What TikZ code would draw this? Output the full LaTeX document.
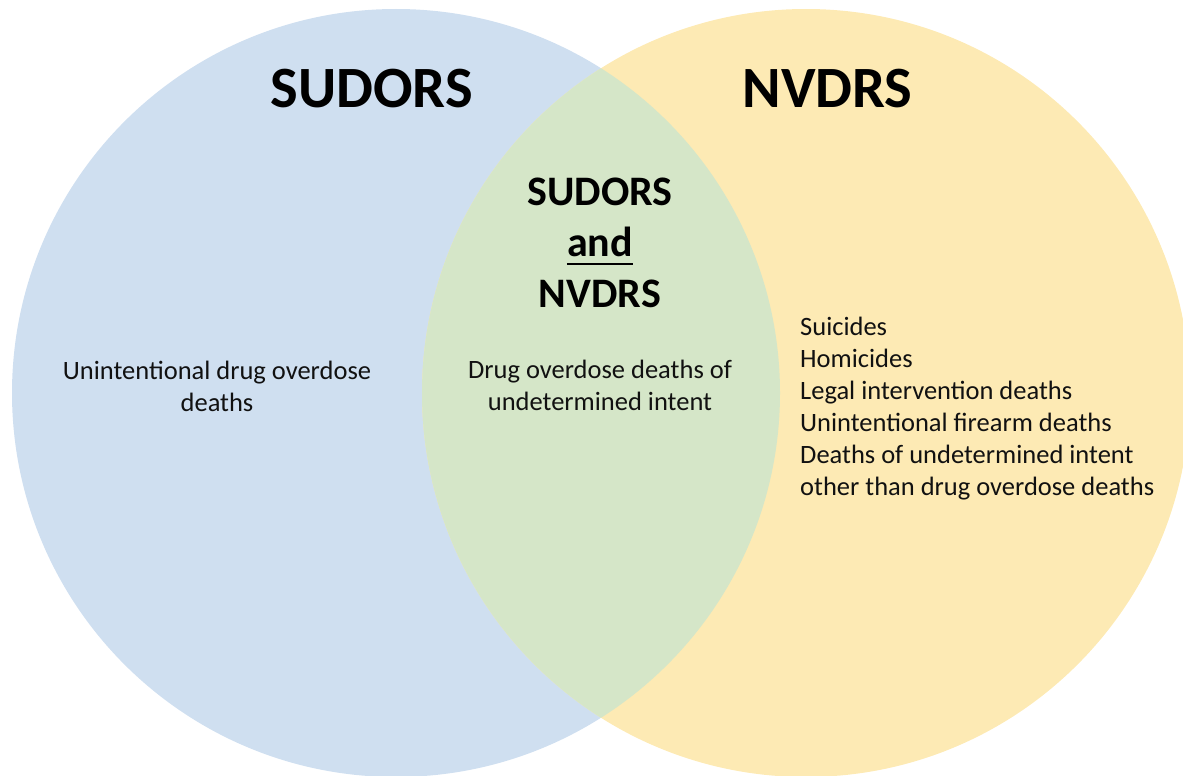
\documentclass[tikz,border=0pt]{standalone}
\usepackage{fontspec}
\setmainfont{Carlito}
\definecolor{cblue}{HTML}{CFDFF0}
\definecolor{cyellow}{HTML}{FDEAB4}
\definecolor{cgreen}{HTML}{D5E6C8}
\definecolor{ctext}{HTML}{111111}
\begin{document}
\begin{tikzpicture}[x=1pt,y=-1pt,
  title/.style={anchor=base,inner sep=0pt,font=\fontsize{58.5}{70}\selectfont\bfseries,text=black},
  midtitle/.style={anchor=base,inner sep=0pt,font=\fontsize{42}{51}\selectfont\bfseries,text=black},
  body/.style={anchor=base,inner sep=0pt,font=\fontsize{26.5}{32}\selectfont,text=ctext},
  listitem/.style={body,anchor=base west}]
\useasboundingbox (0,0) rectangle (1183,776);
\begin{scope}
\clip (0,0) rectangle (1183,776);
\fill[cblue] (396,393) circle[radius=384];
\fill[cyellow] (806,393) circle[radius=384];
\begin{scope}
\clip (396,393) circle[radius=384];
\fill[cgreen] (806,393) circle[radius=384];
\end{scope}
\end{scope}
% titles
\node[title] (t1) at (371.5,107) {SUDORS};
\node[title] (t2) at (827.5,107) {NVDRS};
% intersection titles
\node[midtitle] (m1) at (600,205) {SUDORS};
\node[midtitle] (m2) at (600,256) {and};
\node[midtitle] (m3) at (600,307) {NVDRS};
\draw[line width=2pt] ([yshift=-8pt]m2.base west) -- ([yshift=-8pt]m2.base east);
% left text
\node[body] (l1) at (217,379) {Unintentional drug overdose};
\node[body] (l2) at (217,411) {deaths};
% middle text
\node[body] (c1) at (600,378) {Drug overdose deaths of};
\node[body] (c2) at (600,410) {undetermined intent};
% right list
\node[listitem] (r1) at (800,335) {Suicides};
\node[listitem] (r2) at (800,367) {Homicides};
\node[listitem] (r3) at (800,399) {Legal intervention deaths};
\node[listitem] (r4) at (800,431) {Unintentional firearm deaths};
\node[listitem] (r5) at (800,463) {Deaths of undetermined intent};
\node[listitem] (r6) at (800,495) {other than drug overdose deaths};
\end{tikzpicture}
\end{document}
